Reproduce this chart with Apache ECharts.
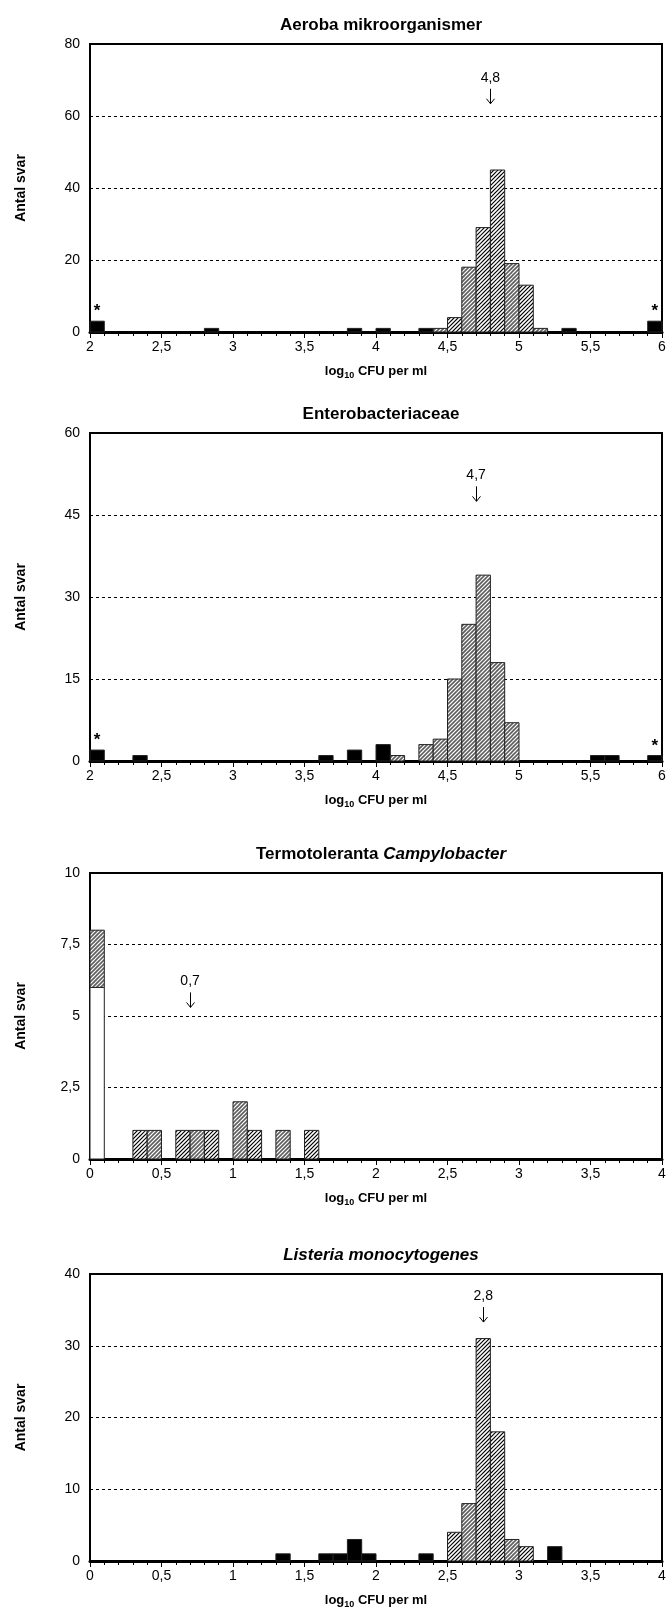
<!DOCTYPE html>
<html>
<head>
<meta charset="utf-8">
<script src="https://cdn.jsdelivr.net/npm/echarts@6/dist/echarts.min.js"></script>
<style>
  html, body { margin: 0; padding: 0; background: #fff; }
  #chart { width: 669px; height: 1613px; }
</style>
</head>
<body>
<div id="chart"></div>
<script>
// every bin is 0.1 log units wide, the value is its lower edge
// fills: k = black (outside), g = grey hatch, d = black hatch, w = white
const aerobaBins   = [2.0, 2.8, 3.8, 4.0, 4.3, 4.4, 4.5, 4.6, 4.7, 4.8, 4.9, 5.0, 5.1, 5.3, 5.9];
const aerobaCounts = [3, 1, 1, 1, 1, 1, 4, 18, 29, 45, 19, 13, 1, 1, 3];
const aerobaFills  = ["k", "k", "k", "k", "k", "g", "d", "g", "d", "d", "g", "d", "g", "k", "k"];
const aerobaStars  = [2.0, 5.9];

const enteroBins   = [2.0, 2.3, 3.6, 3.8, 4.0, 4.1, 4.3, 4.4, 4.5, 4.6, 4.7, 4.8, 4.9, 5.5, 5.6, 5.9];
const enteroCounts = [2, 1, 1, 2, 3, 1, 3, 4, 15, 25, 34, 18, 7, 1, 1, 1];
const enteroFills  = ["k", "k", "k", "k", "k", "g", "g", "g", "g", "g", "g", "g", "g", "k", "k", "k"];
const enteroStars  = [2.0, 5.9];

// first bin is stacked: 6 white + 2 hatched
const campyBins   = [0.0, 0.0, 0.3, 0.4, 0.6, 0.7, 0.8, 1.0, 1.1, 1.3, 1.5];
const campyCounts = [6, 2, 1, 1, 1, 1, 1, 2, 1, 1, 1];
const campyFills  = ["w", "g", "d", "g", "d", "g", "d", "g", "d", "g", "d"];
const campyStars  = [];

const listBins   = [1.3, 1.6, 1.7, 1.8, 1.9, 2.3, 2.5, 2.6, 2.7, 2.8, 2.9, 3.0, 3.2];
const listCounts = [1, 1, 1, 3, 1, 1, 4, 8, 31, 18, 3, 2, 2];
const listFills  = ["k", "k", "k", "k", "k", "k", "d", "g", "d", "d", "g", "d", "k"];
const listStars  = [];

// median arrows: x position, y value of arrow tip, text
const medianX     = [4.8, 4.7, 0.7, 2.75];
const medianTip   = [63.4, 47.5, 5.3, 33.3];
const medianTexts = ["4,8", "4,7", "0,7", "2,8"];

const titles = [
  "{b|Aeroba mikroorganismer}",
  "{b|Enterobacteriaceae}",
  "{b|Termotoleranta }{i|Campylobacter}",
  "{i|Listeria monocytogenes}"
];
const xRanges    = [[2, 6], [2, 6], [0, 4], [0, 4]];
const yMaxes     = [80, 60, 10, 40];
const yIntervals = [20, 15, 2.5, 10];

const FONT = "'Liberation Sans', Arial, sans-serif";
const gridTops    = [44, 433, 873, 1274];
const gridHeights = [288, 328, 286, 287];
const gridLeft = 90, gridWidth = 572;

function hatch(color, width) {
  const s = 16;
  const c = document.createElement("canvas");
  c.width = c.height = s;
  const g = c.getContext("2d");
  g.fillStyle = "#fff";
  g.fillRect(0, 0, s, s);
  g.strokeStyle = color;
  g.lineWidth = width;
  for (let k = -16; k <= 48; k += 4) {
    g.beginPath();
    g.moveTo(-4, k + 4);
    g.lineTo(s + 4, k - s - 4);
    g.stroke();
  }
  return c;
}

const fillStyles = {
  k: "#000",
  w: "#fff",
  g: { image: hatch("#5e5e5e", 1.6), repeat: "repeat" },
  d: { image: hatch("#000", 1.2), repeat: "repeat" }
};

function buildItems(bins, counts) {
  const base = {};
  return bins.map((b, i) => {
    const key = b.toFixed(1);
    const y0 = base[key] || 0;
    base[key] = y0 + counts[i];
    return [b, y0, y0 + counts[i], i];
  });
}

const panels = [
  [aerobaBins, aerobaCounts, aerobaFills, aerobaStars],
  [enteroBins, enteroCounts, enteroFills, enteroStars],
  [campyBins, campyCounts, campyFills, campyStars],
  [listBins, listCounts, listFills, listStars]
];

const grid = [], xAxis = [], yAxis = [], title = [], series = [];

panels.forEach(([bins, counts, fills, stars], p) => {
  grid.push({
    left: gridLeft, top: gridTops[p], width: gridWidth, height: gridHeights[p],
    show: true, borderColor: "#000", borderWidth: 2, backgroundColor: "#fff",
    outerBoundsMode: "none"
  });
  title.push({
    text: titles[p],
    left: gridLeft + gridWidth / 2, top: gridTops[p] - 32, textAlign: "center",
    textStyle: {
      rich: {
        b: { fontFamily: FONT, fontWeight: "bold", fontSize: 17, color: "#000" },
        i: { fontFamily: FONT, fontWeight: "bold", fontStyle: "italic", fontSize: 17, color: "#000" }
      }
    }
  });
  xAxis.push({
    type: "value", gridIndex: p, min: xRanges[p][0], max: xRanges[p][1], interval: 0.5,
    name: "{a|log}{s|10}{a| CFU per ml}", nameLocation: "middle", nameGap: 30,
    nameTextStyle: {
      rich: {
        a: { fontFamily: FONT, fontWeight: "bold", fontSize: 13, color: "#000", lineHeight: 18 },
        s: { fontFamily: FONT, fontWeight: "bold", fontSize: 9, color: "#000", lineHeight: 18, padding: [9, 0, 0, 0] }
      }
    },
    axisLine: { show: true, onZero: false, lineStyle: { color: "#000", width: 3 } },
    axisTick: { show: true, length: 6, lineStyle: { color: "#000", width: 1 } },
    minorTick: { show: true, splitNumber: 5, length: 4, lineStyle: { color: "#000", width: 1 } },
    splitLine: { show: false },
    axisLabel: {
      fontFamily: FONT, fontSize: 14, color: "#000", margin: 8, showMinLabel: true, showMaxLabel: true,
      formatter: v => String(v).replace(".", ",")
    }
  });
  yAxis.push({
    type: "value", gridIndex: p, min: 0, max: yMaxes[p], interval: yIntervals[p],
    name: "Antal svar", nameLocation: "middle", nameGap: 62, nameRotate: 90,
    nameTextStyle: { fontFamily: FONT, fontWeight: "bold", fontSize: 14, color: "#000" },
    axisLine: { show: true, lineStyle: { color: "#000", width: 2 } },
    axisTick: { show: false },
    splitLine: { show: true, lineStyle: { color: "#000", width: 1, type: [3, 3] } },
    axisLabel: {
      fontFamily: FONT, fontSize: 14, color: "#000", margin: 10,
      formatter: v => String(v).replace(".", ",")
    }
  });

  series.push({
    type: "custom", xAxisIndex: p, yAxisIndex: p,
    data: buildItems(bins, counts),
    encode: { x: 0, y: 2 },
    z: 3,
    renderItem: (params, api) => {
      const x0 = api.value(0), y0 = api.value(1), y1 = api.value(2);
      const i = api.value(3);
      const a = api.coord([x0, y1]);
      const b = api.coord([x0 + 0.1, y0]);
      const children = [{
        type: "rect",
        shape: { x: a[0], y: a[1], width: b[0] - a[0], height: b[1] - a[1] },
        style: { fill: fillStyles[fills[i]], stroke: "#222", lineWidth: 1 }
      }];
      if (stars.indexOf(x0) >= 0) {
        children.push({
          type: "text",
          style: {
            text: "*", x: (a[0] + b[0]) / 2, y: a[1] - 1, align: "center", verticalAlign: "bottom",
            font: "bold 17px " + FONT, fill: "#000"
          }
        });
      }
      return { type: "group", children };
    }
  });

  // median marker: text with a thin arrow pointing down
  series.push({
    type: "custom", xAxisIndex: p, yAxisIndex: p,
    data: [[medianX[p], medianTip[p]]],
    encode: { x: 0, y: 1 },
    z: 4,
    renderItem: (params, api) => {
      const c = api.coord([api.value(0), api.value(1)]);
      const x = Math.round(c[0]) + 0.5, y = c[1];
      return {
        type: "group",
        children: [
          {
            type: "polyline",
            shape: { points: [[x, y - 15], [x, y]] },
            style: { stroke: "#000", lineWidth: 1, fill: null }
          },
          {
            type: "polyline",
            shape: { points: [[x - 4, y - 5], [x, y], [x + 4, y - 5]] },
            style: { stroke: "#000", lineWidth: 1, fill: null }
          },
          {
            type: "text",
            style: {
              text: medianTexts[p], x: c[0], y: y - 19, align: "center", verticalAlign: "bottom",
              font: "14px " + FONT, fill: "#000"
            }
          }
        ]
      };
    }
  });
});

const chart = echarts.init(document.getElementById("chart"));
chart.setOption({
  animation: false,
  backgroundColor: "#fff",
  title, grid, xAxis, yAxis, series
});
</script>
</body>
</html>
